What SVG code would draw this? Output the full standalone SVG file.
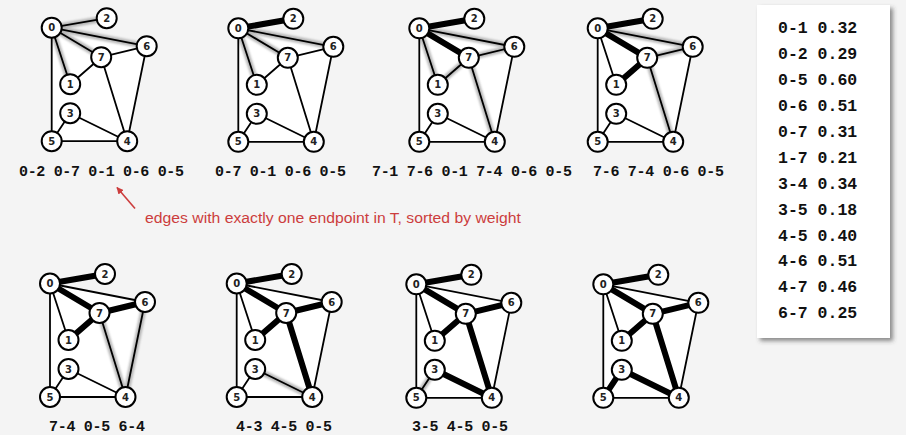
<svg xmlns="http://www.w3.org/2000/svg" xmlns:xlink="http://www.w3.org/1999/xlink" width="906" height="435" viewBox="0 0 906 435">
<style>
.bg{fill:#f4f4f4}
.face{fill:#ffffff;stroke:none}
.e{stroke:#000;stroke-width:1.8;stroke-linecap:round}
.halo{stroke:#a8a8a8;stroke-width:6;stroke-linecap:round;opacity:0.8;filter:url(#soft)}
.mst{stroke:#000;stroke-width:6;stroke-linecap:round}
.node circle{fill:#fff;stroke:#000;stroke-width:2}
.node text{font-family:"DejaVu Sans","Liberation Sans",sans-serif;font-weight:bold;font-size:10px;text-anchor:middle;fill:#222}
.lbl{font-family:"Liberation Mono","DejaVu Sans Mono",monospace;font-weight:bold;font-size:15px;fill:#111}
.tbl{font-family:"Liberation Mono","DejaVu Sans Mono",monospace;font-weight:bold;font-size:16.5px;fill:#111}
.note{font-family:"Liberation Sans","DejaVu Sans",sans-serif;font-size:14px;fill:#cc3d3d}
</style>
<defs>
<filter id="soft" x="-20%" y="-20%" width="140%" height="140%"><feGaussianBlur stdDeviation="1.1"/></filter>
<filter id="shadow" x="-10%" y="-10%" width="125%" height="125%"><feDropShadow dx="3" dy="3" stdDeviation="2" flood-color="#444" flood-opacity="0.6"/></filter>
<marker id="arr" viewBox="0 0 10 10" refX="9" refY="5" markerWidth="7" markerHeight="7" orient="auto-start-reverse" markerUnits="userSpaceOnUse"><path d="M0,0 L10,5 L0,10 z" fill="#cc3d3d"/></marker>
<g id="base-edges">
<line class="e" x1="0" y1="0" x2="18.5" y2="56.5"/>
<line class="e" x1="0" y1="0" x2="55" y2="-9.5"/>
<line class="e" x1="0" y1="0" x2="0" y2="113.5"/>
<line class="e" x1="0" y1="0" x2="95" y2="18.5"/>
<line class="e" x1="0" y1="0" x2="49.5" y2="29.5"/>
<line class="e" x1="18.5" y1="56.5" x2="49.5" y2="29.5"/>
<line class="e" x1="18.5" y1="85.5" x2="75.5" y2="113.5"/>
<line class="e" x1="18.5" y1="85.5" x2="0" y2="113.5"/>
<line class="e" x1="75.5" y1="113.5" x2="0" y2="113.5"/>
<line class="e" x1="75.5" y1="113.5" x2="95" y2="18.5"/>
<line class="e" x1="75.5" y1="113.5" x2="49.5" y2="29.5"/>
<line class="e" x1="95" y1="18.5" x2="49.5" y2="29.5"/>
</g>
<polygon id="face" class="face" points="0,0 95,18.5 75.5,113.5 0,113.5"/>
</defs>
<rect class="bg" x="0" y="0" width="906" height="435"/>

<!-- Graph 1 -->
<g id="graph1" transform="translate(51.7,27.7)">
<use xlink:href="#face"/>
<g id="graph1-connectors">
<line class="halo" x1="0" y1="0" x2="55" y2="-9.5"/>
<line class="halo" x1="0" y1="0" x2="49.5" y2="29.5"/>
<line class="halo" x1="0" y1="0" x2="18.5" y2="56.5"/>
<line class="halo" x1="0" y1="0" x2="95" y2="18.5"/>
<line class="halo" x1="0" y1="0" x2="0" y2="113.5"/>
<use xlink:href="#base-edges"/>
</g>
<g id="g1-n0" class="node" transform="translate(0,0)"><circle r="10"/><text y="3.6">0</text></g>
<g id="g1-n1" class="node" transform="translate(18.5,56.5)"><circle r="10"/><text y="3.6">1</text></g>
<g id="g1-n2" class="node" transform="translate(55,-9.5)"><circle r="10"/><text y="3.6">2</text></g>
<g id="g1-n3" class="node" transform="translate(18.5,85.5)"><circle r="10"/><text y="3.6">3</text></g>
<g id="g1-n4" class="node" transform="translate(75.5,113.5)"><circle r="10"/><text y="3.6">4</text></g>
<g id="g1-n5" class="node" transform="translate(0,113.5)"><circle r="10"/><text y="3.6">5</text></g>
<g id="g1-n6" class="node" transform="translate(95,18.5)"><circle r="10"/><text y="3.6">6</text></g>
<g id="g1-n7" class="node" transform="translate(49.5,29.5)"><circle r="10"/><text y="3.6">7</text></g>
</g>
<text class="lbl" x="19" y="176" textLength="165" lengthAdjust="spacing">0-2 0-7 0-1 0-6 0-5</text>

<!-- Graph 2 -->
<g id="graph2" transform="translate(238.3,28.3)">
<use xlink:href="#face"/>
<g id="graph2-connectors">
<line class="halo" x1="0" y1="0" x2="49.5" y2="29.5"/>
<line class="halo" x1="0" y1="0" x2="18.5" y2="56.5"/>
<line class="halo" x1="0" y1="0" x2="95" y2="18.5"/>
<line class="halo" x1="0" y1="0" x2="0" y2="113.5"/>
<use xlink:href="#base-edges"/>
<line class="mst" x1="0" y1="0" x2="55" y2="-9.5"/>
</g>
<g id="g2-n0" class="node" transform="translate(0,0)"><circle r="10"/><text y="3.6">0</text></g>
<g id="g2-n1" class="node" transform="translate(18.5,56.5)"><circle r="10"/><text y="3.6">1</text></g>
<g id="g2-n2" class="node" transform="translate(55,-9.5)"><circle r="10"/><text y="3.6">2</text></g>
<g id="g2-n3" class="node" transform="translate(18.5,85.5)"><circle r="10"/><text y="3.6">3</text></g>
<g id="g2-n4" class="node" transform="translate(75.5,113.5)"><circle r="10"/><text y="3.6">4</text></g>
<g id="g2-n5" class="node" transform="translate(0,113.5)"><circle r="10"/><text y="3.6">5</text></g>
<g id="g2-n6" class="node" transform="translate(95,18.5)"><circle r="10"/><text y="3.6">6</text></g>
<g id="g2-n7" class="node" transform="translate(49.5,29.5)"><circle r="10"/><text y="3.6">7</text></g>
</g>
<text class="lbl" x="215" y="176" textLength="131" lengthAdjust="spacing">0-7 0-1 0-6 0-5</text>

<!-- Graph 3 -->
<g id="graph3" transform="translate(419.3,28.3)">
<use xlink:href="#face"/>
<g id="graph3-connectors">
<line class="halo" x1="18.5" y1="56.5" x2="49.5" y2="29.5"/>
<line class="halo" x1="95" y1="18.5" x2="49.5" y2="29.5"/>
<line class="halo" x1="0" y1="0" x2="18.5" y2="56.5"/>
<line class="halo" x1="75.5" y1="113.5" x2="49.5" y2="29.5"/>
<line class="halo" x1="0" y1="0" x2="95" y2="18.5"/>
<line class="halo" x1="0" y1="0" x2="0" y2="113.5"/>
<use xlink:href="#base-edges"/>
<line class="mst" x1="0" y1="0" x2="55" y2="-9.5"/>
<line class="mst" x1="0" y1="0" x2="49.5" y2="29.5"/>
</g>
<g id="g3-n0" class="node" transform="translate(0,0)"><circle r="10"/><text y="3.6">0</text></g>
<g id="g3-n1" class="node" transform="translate(18.5,56.5)"><circle r="10"/><text y="3.6">1</text></g>
<g id="g3-n2" class="node" transform="translate(55,-9.5)"><circle r="10"/><text y="3.6">2</text></g>
<g id="g3-n3" class="node" transform="translate(18.5,85.5)"><circle r="10"/><text y="3.6">3</text></g>
<g id="g3-n4" class="node" transform="translate(75.5,113.5)"><circle r="10"/><text y="3.6">4</text></g>
<g id="g3-n5" class="node" transform="translate(0,113.5)"><circle r="10"/><text y="3.6">5</text></g>
<g id="g3-n6" class="node" transform="translate(95,18.5)"><circle r="10"/><text y="3.6">6</text></g>
<g id="g3-n7" class="node" transform="translate(49.5,29.5)"><circle r="10"/><text y="3.6">7</text></g>
</g>
<text class="lbl" x="372" y="176" textLength="200" lengthAdjust="spacing">7-1 7-6 0-1 7-4 0-6 0-5</text>

<!-- Graph 4 -->
<g id="graph4" transform="translate(597.7,28.3)">
<use xlink:href="#face"/>
<g id="graph4-connectors">
<line class="halo" x1="95" y1="18.5" x2="49.5" y2="29.5"/>
<line class="halo" x1="75.5" y1="113.5" x2="49.5" y2="29.5"/>
<line class="halo" x1="0" y1="0" x2="95" y2="18.5"/>
<line class="halo" x1="0" y1="0" x2="0" y2="113.5"/>
<use xlink:href="#base-edges"/>
<line class="mst" x1="0" y1="0" x2="55" y2="-9.5"/>
<line class="mst" x1="0" y1="0" x2="49.5" y2="29.5"/>
<line class="mst" x1="18.5" y1="56.5" x2="49.5" y2="29.5"/>
</g>
<g id="g4-n0" class="node" transform="translate(0,0)"><circle r="10"/><text y="3.6">0</text></g>
<g id="g4-n1" class="node" transform="translate(18.5,56.5)"><circle r="10"/><text y="3.6">1</text></g>
<g id="g4-n2" class="node" transform="translate(55,-9.5)"><circle r="10"/><text y="3.6">2</text></g>
<g id="g4-n3" class="node" transform="translate(18.5,85.5)"><circle r="10"/><text y="3.6">3</text></g>
<g id="g4-n4" class="node" transform="translate(75.5,113.5)"><circle r="10"/><text y="3.6">4</text></g>
<g id="g4-n5" class="node" transform="translate(0,113.5)"><circle r="10"/><text y="3.6">5</text></g>
<g id="g4-n6" class="node" transform="translate(95,18.5)"><circle r="10"/><text y="3.6">6</text></g>
<g id="g4-n7" class="node" transform="translate(49.5,29.5)"><circle r="10"/><text y="3.6">7</text></g>
</g>
<text class="lbl" x="593" y="176" textLength="131" lengthAdjust="spacing">7-6 7-4 0-6 0-5</text>

<!-- Graph 5 -->
<g id="graph5" transform="translate(50,283.5)">
<use xlink:href="#face"/>
<g id="graph5-connectors">
<line class="halo" x1="75.5" y1="113.5" x2="49.5" y2="29.5"/>
<line class="halo" x1="0" y1="0" x2="0" y2="113.5"/>
<line class="halo" x1="75.5" y1="113.5" x2="95" y2="18.5"/>
<use xlink:href="#base-edges"/>
<line class="mst" x1="0" y1="0" x2="55" y2="-9.5"/>
<line class="mst" x1="0" y1="0" x2="49.5" y2="29.5"/>
<line class="mst" x1="18.5" y1="56.5" x2="49.5" y2="29.5"/>
<line class="mst" x1="95" y1="18.5" x2="49.5" y2="29.5"/>
</g>
<g id="g5-n0" class="node" transform="translate(0,0)"><circle r="10"/><text y="3.6">0</text></g>
<g id="g5-n1" class="node" transform="translate(18.5,56.5)"><circle r="10"/><text y="3.6">1</text></g>
<g id="g5-n2" class="node" transform="translate(55,-9.5)"><circle r="10"/><text y="3.6">2</text></g>
<g id="g5-n3" class="node" transform="translate(18.5,85.5)"><circle r="10"/><text y="3.6">3</text></g>
<g id="g5-n4" class="node" transform="translate(75.5,113.5)"><circle r="10"/><text y="3.6">4</text></g>
<g id="g5-n5" class="node" transform="translate(0,113.5)"><circle r="10"/><text y="3.6">5</text></g>
<g id="g5-n6" class="node" transform="translate(95,18.5)"><circle r="10"/><text y="3.6">6</text></g>
<g id="g5-n7" class="node" transform="translate(49.5,29.5)"><circle r="10"/><text y="3.6">7</text></g>
</g>
<text class="lbl" x="49" y="431" textLength="96" lengthAdjust="spacing">7-4 0-5 6-4</text>

<!-- Graph 6 -->
<g id="graph6" transform="translate(236.7,283.5)">
<use xlink:href="#face"/>
<g id="graph6-connectors">
<line class="halo" x1="18.5" y1="85.5" x2="75.5" y2="113.5"/>
<line class="halo" x1="75.5" y1="113.5" x2="0" y2="113.5"/>
<line class="halo" x1="0" y1="0" x2="0" y2="113.5"/>
<use xlink:href="#base-edges"/>
<line class="mst" x1="0" y1="0" x2="55" y2="-9.5"/>
<line class="mst" x1="0" y1="0" x2="49.5" y2="29.5"/>
<line class="mst" x1="18.5" y1="56.5" x2="49.5" y2="29.5"/>
<line class="mst" x1="95" y1="18.5" x2="49.5" y2="29.5"/>
<line class="mst" x1="75.5" y1="113.5" x2="49.5" y2="29.5"/>
</g>
<g id="g6-n0" class="node" transform="translate(0,0)"><circle r="10"/><text y="3.6">0</text></g>
<g id="g6-n1" class="node" transform="translate(18.5,56.5)"><circle r="10"/><text y="3.6">1</text></g>
<g id="g6-n2" class="node" transform="translate(55,-9.5)"><circle r="10"/><text y="3.6">2</text></g>
<g id="g6-n3" class="node" transform="translate(18.5,85.5)"><circle r="10"/><text y="3.6">3</text></g>
<g id="g6-n4" class="node" transform="translate(75.5,113.5)"><circle r="10"/><text y="3.6">4</text></g>
<g id="g6-n5" class="node" transform="translate(0,113.5)"><circle r="10"/><text y="3.6">5</text></g>
<g id="g6-n6" class="node" transform="translate(95,18.5)"><circle r="10"/><text y="3.6">6</text></g>
<g id="g6-n7" class="node" transform="translate(49.5,29.5)"><circle r="10"/><text y="3.6">7</text></g>
</g>
<text class="lbl" x="236" y="431" textLength="96" lengthAdjust="spacing">4-3 4-5 0-5</text>

<!-- Graph 7 -->
<g id="graph7" transform="translate(416.3,284.3)">
<use xlink:href="#face"/>
<g id="graph7-connectors">
<line class="halo" x1="18.5" y1="85.5" x2="0" y2="113.5"/>
<line class="halo" x1="75.5" y1="113.5" x2="0" y2="113.5"/>
<line class="halo" x1="0" y1="0" x2="0" y2="113.5"/>
<use xlink:href="#base-edges"/>
<line class="mst" x1="0" y1="0" x2="55" y2="-9.5"/>
<line class="mst" x1="0" y1="0" x2="49.5" y2="29.5"/>
<line class="mst" x1="18.5" y1="56.5" x2="49.5" y2="29.5"/>
<line class="mst" x1="95" y1="18.5" x2="49.5" y2="29.5"/>
<line class="mst" x1="75.5" y1="113.5" x2="49.5" y2="29.5"/>
<line class="mst" x1="18.5" y1="85.5" x2="75.5" y2="113.5"/>
</g>
<g id="g7-n0" class="node" transform="translate(0,0)"><circle r="10"/><text y="3.6">0</text></g>
<g id="g7-n1" class="node" transform="translate(18.5,56.5)"><circle r="10"/><text y="3.6">1</text></g>
<g id="g7-n2" class="node" transform="translate(55,-9.5)"><circle r="10"/><text y="3.6">2</text></g>
<g id="g7-n3" class="node" transform="translate(18.5,85.5)"><circle r="10"/><text y="3.6">3</text></g>
<g id="g7-n4" class="node" transform="translate(75.5,113.5)"><circle r="10"/><text y="3.6">4</text></g>
<g id="g7-n5" class="node" transform="translate(0,113.5)"><circle r="10"/><text y="3.6">5</text></g>
<g id="g7-n6" class="node" transform="translate(95,18.5)"><circle r="10"/><text y="3.6">6</text></g>
<g id="g7-n7" class="node" transform="translate(49.5,29.5)"><circle r="10"/><text y="3.6">7</text></g>
</g>
<text class="lbl" x="412" y="431" textLength="96" lengthAdjust="spacing">3-5 4-5 0-5</text>

<!-- Graph 8 -->
<g id="graph8" transform="translate(603.3,284.3)">
<use xlink:href="#face"/>
<g id="graph8-connectors">
<use xlink:href="#base-edges"/>
<line class="mst" x1="0" y1="0" x2="55" y2="-9.5"/>
<line class="mst" x1="0" y1="0" x2="49.5" y2="29.5"/>
<line class="mst" x1="18.5" y1="56.5" x2="49.5" y2="29.5"/>
<line class="mst" x1="95" y1="18.5" x2="49.5" y2="29.5"/>
<line class="mst" x1="75.5" y1="113.5" x2="49.5" y2="29.5"/>
<line class="mst" x1="18.5" y1="85.5" x2="75.5" y2="113.5"/>
<line class="mst" x1="18.5" y1="85.5" x2="0" y2="113.5"/>
</g>
<g id="g8-n0" class="node" transform="translate(0,0)"><circle r="10"/><text y="3.6">0</text></g>
<g id="g8-n1" class="node" transform="translate(18.5,56.5)"><circle r="10"/><text y="3.6">1</text></g>
<g id="g8-n2" class="node" transform="translate(55,-9.5)"><circle r="10"/><text y="3.6">2</text></g>
<g id="g8-n3" class="node" transform="translate(18.5,85.5)"><circle r="10"/><text y="3.6">3</text></g>
<g id="g8-n4" class="node" transform="translate(75.5,113.5)"><circle r="10"/><text y="3.6">4</text></g>
<g id="g8-n5" class="node" transform="translate(0,113.5)"><circle r="10"/><text y="3.6">5</text></g>
<g id="g8-n6" class="node" transform="translate(95,18.5)"><circle r="10"/><text y="3.6">6</text></g>
<g id="g8-n7" class="node" transform="translate(49.5,29.5)"><circle r="10"/><text y="3.6">7</text></g>
</g>

<!-- annotation -->
<g id="annotation">
<line x1="135" y1="208.5" x2="117" y2="187.5" stroke="#cc3d3d" stroke-width="1.6" marker-end="url(#arr)"/>
<text class="note" x="145" y="222.5" textLength="376" lengthAdjust="spacingAndGlyphs">edges with exactly one endpoint in T, sorted by weight</text>
</g>

<!-- weight table -->
<g id="weight-table">
<rect x="757" y="5" width="133" height="333" fill="#fff" filter="url(#shadow)"/>
<text class="tbl" x="778" y="33.3">0-1 0.32</text>
<text class="tbl" x="778" y="59.2">0-2 0.29</text>
<text class="tbl" x="778" y="85.1">0-5 0.60</text>
<text class="tbl" x="778" y="111">0-6 0.51</text>
<text class="tbl" x="778" y="136.9">0-7 0.31</text>
<text class="tbl" x="778" y="162.8">1-7 0.21</text>
<text class="tbl" x="778" y="188.7">3-4 0.34</text>
<text class="tbl" x="778" y="214.6">3-5 0.18</text>
<text class="tbl" x="778" y="240.5">4-5 0.40</text>
<text class="tbl" x="778" y="266.4">4-6 0.51</text>
<text class="tbl" x="778" y="292.3">4-7 0.46</text>
<text class="tbl" x="778" y="318.2">6-7 0.25</text>
</g>
</svg>
